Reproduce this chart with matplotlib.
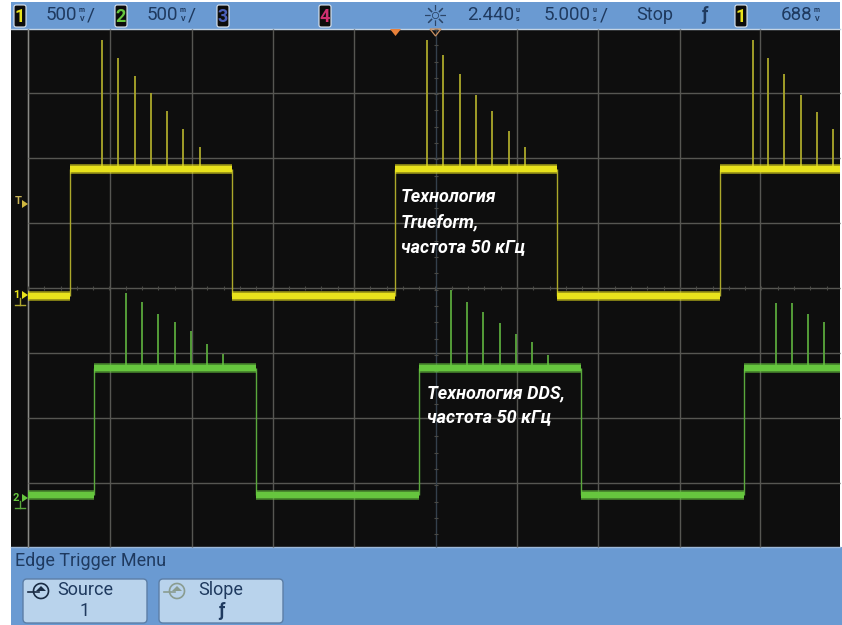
import matplotlib
matplotlib.use('Agg')
import matplotlib.pyplot as plt
import numpy as np
from matplotlib.patches import Rectangle, FancyBboxPatch, Polygon, Arc

# everything is in screen pixels of the scope capture
GRID_X = [28, 110, 192, 273, 354, 517, 598, 680, 760]
CENTER_X = 436
GRID_Y = [93, 158, 223, 288, 353, 418, 483]

YEL_EDGES = [70, 232, 395, 557, 720]
YEL_HIGH, YEL_LOW = 169, 296
GRN_EDGES = [94, 256, 419, 581, 744]
GRN_HIGH, GRN_LOW = 368, 495
TRACE_START, TRACE_END = 28, 840

YEL_SPIKE_X = [102, 118, 134.5, 151, 167, 183, 200,
               427, 443, 459.5, 476, 492, 508.5, 525,
               752.5, 768, 784, 801, 817, 833]
YEL_SPIKE_TOP = [40, 58, 76, 93, 111, 129, 147,
                 40, 55, 74, 95, 111, 131, 147,
                 40, 58, 74, 95, 112, 129]
GRN_SPIKE_X = [126, 142, 158, 174.5, 191, 207, 223,
               451, 467, 483, 499.5, 516, 532, 548,
               776, 792, 808, 824]
GRN_SPIKE_TOP = [293, 302, 314, 322, 331, 344, 354,
                 290, 302, 312, 323, 334, 342, 355,
                 303, 303, 314, 322]

HEADER_TEXT = ['500', '500', '2.440', '5.000', 'Stop', '688']

BAR_BLUE = '#6a9ad2'
INK = '#1f3a5f'
YEL, YEL_DIM = '#e8e21c', '#aca82a'
GRN, GRN_DIM = '#66c63e', '#5aa83c'
GRID_COL = '#565652'

plt.rcParams['font.family'] = ['Roboto', 'DejaVu Sans']

fig = plt.figure(figsize=(8.42, 6.25), dpi=100, facecolor='white')
ax = fig.add_axes([0, 0, 1, 1])
ax.set_xlim(0, 842)
ax.set_ylim(625, 0)
ax.axis('off')

# panels
ax.add_patch(Rectangle((11, 29), 829, 518, fc='#0e0e0e', ec='none', zorder=0))
ax.add_patch(Rectangle((11, 2), 829, 27, fc=BAR_BLUE, ec='none', zorder=0))
ax.add_patch(Rectangle((11, 547), 831, 78, fc=BAR_BLUE, ec='none', zorder=0))
ax.plot([11, 840], [29, 29], color='#c4d4e4', lw=1, zorder=1)
ax.plot([11, 840], [547, 547], color='#9db8d8', lw=1, zorder=1)

# graticule
ax.vlines(GRID_X, 29, 547, color=GRID_COL, lw=1, zorder=1)
ax.vlines(28, 29, 547, color='#8a8a86', lw=1, zorder=1)
ax.hlines(GRID_Y, 28, 840, color=GRID_COL, lw=1, zorder=1)
ax.vlines(CENTER_X, 29, 547, color='#34404c', lw=1, zorder=1)
tick_x = np.arange(28, 840, 16.3)
tick_y = np.arange(29, 547, 16.3)
ax.vlines(tick_x, 286, 290, color='#4a4a46', lw=0.8, zorder=1)
ax.hlines(tick_y, CENTER_X - 2, CENTER_X + 2, color='#4a4a46', lw=0.8, zorder=1)


def draw_trace(edges, high, low, col, dim, spike_x, spike_top):
    ax.vlines(spike_x, spike_top, high, color=dim, lw=1.3, zorder=2)
    ax.vlines(edges, high, low, color=dim, lw=1.0, zorder=2)
    xs = [TRACE_START] + edges + [TRACE_END]
    for i in range(len(xs) - 1):
        level = low if i % 2 == 0 else high
        # soft halo for the noise band, then the solid core
        ax.plot([xs[i], xs[i + 1]], [level, level], color=col, lw=7, alpha=0.6,
                solid_capstyle='butt', zorder=3)
        ax.plot([xs[i], xs[i + 1]], [level, level], color=col, lw=4.6,
                solid_capstyle='butt', zorder=3)


draw_trace(YEL_EDGES, YEL_HIGH, YEL_LOW, YEL, YEL_DIM, YEL_SPIKE_X, YEL_SPIKE_TOP)
draw_trace(GRN_EDGES, GRN_HIGH, GRN_LOW, GRN, GRN_DIM, GRN_SPIKE_X, GRN_SPIKE_TOP)

# header
def badge(x, label, col, ec='#dfe8f2'):
    ax.add_patch(FancyBboxPatch((x - 5, 6), 10, 20, boxstyle='round,pad=1,rounding_size=2',
                                fc='#0c0c0c', ec=ec, lw=0.8, zorder=4))
    ax.text(x, 16.5, label, color=col, fontsize=13, fontweight='bold',
            ha='center', va='center', zorder=5)


badge(20, '1', YEL)
badge(121, '2', GRN)
badge(223, '3', '#4a5fb8')
badge(325, '4', '#d03070')
badge(741, '1', YEL)


def unit(x, top, bottom, tail=''):
    ax.text(x, 10.5, top, color=INK, fontsize=5, ha='center', va='center', fontweight='bold')
    ax.text(x, 19, bottom, color=INK, fontsize=5, ha='center', va='center', fontweight='bold')
    if tail:
        ax.text(x + 5, 15.5, tail, color=INK, fontsize=14, ha='left', va='center')


hdr = dict(color=INK, fontsize=13.5, ha='left', va='center')
ax.text(46, 15.5, HEADER_TEXT[0], **hdr)
unit(82, 'm', 'V', '/')
ax.text(147, 15.5, HEADER_TEXT[1], **hdr)
unit(183, 'm', 'V', '/')
ax.text(467, 15.5, HEADER_TEXT[2], **hdr)
unit(518, 'u', 's')
ax.text(544, 15.5, HEADER_TEXT[3], **hdr)
unit(595, 'u', 's', '/')
ax.text(636, 15.5, HEADER_TEXT[4], color=INK, fontsize=13, ha='left', va='center')
ax.text(704, 15.5, 'ƒ', color=INK, fontsize=13, ha='center', va='center', fontweight='bold')
ax.text(781, 15.5, HEADER_TEXT[5], **hdr)
unit(817, 'm', 'V')

# brightness icon
ax.plot([435], [15], marker=(8, 2, 0), ms=15, mew=0.8, color='#2b4568', ls='none')
ax.plot([435], [15], marker='o', ms=6, mfc=BAR_BLUE, mec=BAR_BLUE, ls='none')
ax.plot([435], [15], marker='o', ms=4.5, mfc='none', mec='#2b4568', mew=0.6, ls='none')

# delay / trigger markers
ax.add_patch(Polygon([(390, 29), (401, 29), (395.5, 36)], fc='#e8813a', ec='none', zorder=4))
ax.add_patch(Polygon([(430, 29), (441, 29), (435.5, 36)], fc='none', ec='#c89060', lw=0.9, zorder=4))

# channel ground markers
ax.text(18, 201, 'T', color='#c8b458', fontsize=8, ha='center', va='center', fontweight='bold')
ax.add_patch(Polygon([(22, 200), (22, 208), (28, 204)], fc='#d0b840', ec='none', zorder=4))
ax.text(16, 295, '1', color=YEL, fontsize=8, ha='center', va='center', fontweight='bold')
ax.add_patch(Polygon([(22, 291), (22, 299), (28, 295)], fc=YEL, ec='none', zorder=4))
ax.plot([20, 20], [298, 305], color='#b0a830', lw=1)
ax.plot([15, 25], [305, 305], color='#b0a830', lw=1)
ax.text(16, 498, '2', color=GRN, fontsize=8, ha='center', va='center', fontweight='bold')
ax.add_patch(Polygon([(22, 494), (22, 502), (28, 498)], fc=GRN, ec='none', zorder=4))
ax.plot([20, 20], [501, 508], color=GRN_DIM, lw=1)
ax.plot([15, 25], [508, 508], color=GRN_DIM, lw=1)

# annotations
note = dict(color='white', fontsize=13, fontweight='bold', fontstyle='italic',
            ha='left', va='center', zorder=6)
ax.text(401, 197, 'Технология', **note)
ax.text(401, 222, 'Trueform,', **note)
ax.text(401, 247, 'частота 50 кГц', **note)
ax.text(427, 393, 'Технология DDS,', **note)
ax.text(427, 417, 'частота 50 кГц', **note)

# softkey menu
ax.text(15, 561, 'Edge Trigger Menu', color=INK, fontsize=13, ha='left', va='center')


def softkey(x, label, value, icon_col):
    ax.add_patch(FancyBboxPatch((x + 3, 582), 118, 38, boxstyle='round,pad=3,rounding_size=4',
                                fc='#b9d3ec', ec='#5c7ea6', lw=1, zorder=4))
    ax.text(x + 62, 590, label, color=INK, fontsize=13, ha='center', va='center', zorder=5)
    ax.text(x + 62, 611, value, color=INK, fontsize=13, ha='center', va='center', zorder=5,
            fontweight='bold' if value == 'ƒ' else 'normal')
    ax.add_patch(Arc((x + 18, 591), 15, 15, theta1=-230, theta2=130, color=icon_col, lw=1.2, zorder=5))
    ax.plot([x + 5, x + 16], [592, 592], color=icon_col, lw=1.2, zorder=5)
    ax.add_patch(Polygon([(x + 13, 591), (x + 23, 591), (x + 18, 586)], fc=icon_col, ec='none', zorder=5))


softkey(23, 'Source', '1', '#1a2c44')
softkey(159, 'Slope', 'ƒ', '#8a9c90')

fig.savefig('out.png', dpi=100, facecolor='white')
